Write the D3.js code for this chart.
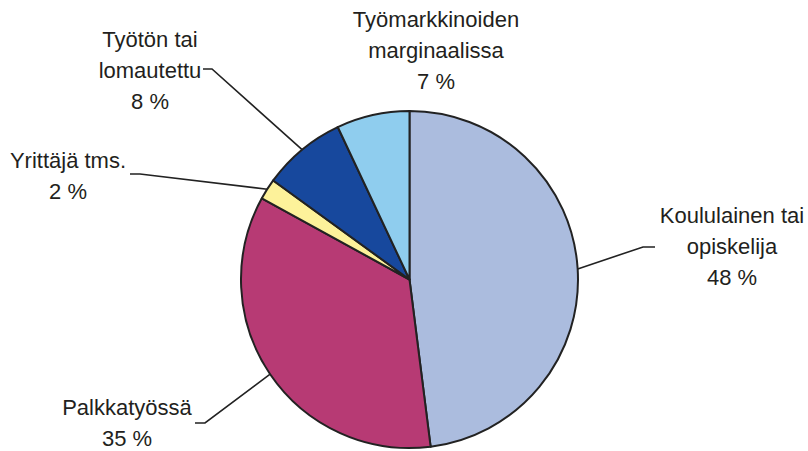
<!DOCTYPE html>
<html>
<head>
<meta charset="utf-8">
<script src="https://cdn.jsdelivr.net/npm/d3@7"></script>
<style>
  body { margin: 0; background: #fff; }
  svg text { font-family: "Liberation Sans", Arial, sans-serif; font-size: 22px; fill: #231f20; }
</style>
</head>
<body>
<div id="chart"></div>
<script>
// data, clockwise from 12 o'clock
const categories = ["Koululainen tai opiskelija", "Palkkatyössä", "Yrittäjä tms.", "Työtön tai lomautettu", "Työmarkkinoiden marginaalissa"];
const values = [48, 35, 2, 8, 7];
const labelLines = [["Koululainen tai", "opiskelija"], ["Palkkatyössä"], ["Yrittäjä tms."], ["Työtön tai", "lomautettu"], ["Työmarkkinoiden", "marginaalissa"]];
const colors = ["#abbcde", "#b73a74", "#fdf29a", "#17489d", "#8fcdee"];

// label placement (text centre x, first baseline y, leader elbow points)
const labelPos = [
  { x: 732, y: 223, leader: [[655, 247], [643, 247]] },
  { x: 127, y: 415, leader: [[195, 423], [205, 423]] },
  { x: 68, y: 168, leader: [[130, 174], [140, 174]] },
  { x: 150, y: 47, leader: [[203, 69], [212, 69]] },
  { x: 436, y: 27, leader: null }
];

const w = 808, h = 451;
const cx = 409.5, cy = 279.5, r = 168.5;
const lineH = 31;

const svg = d3.select("#chart").append("svg")
  .attr("width", w)
  .attr("height", h);

const pie = d3.pie().sort(null).value(d => d);
const arcs = pie(values);
const arc = d3.arc().innerRadius(0).outerRadius(r);

const g = svg.append("g").attr("transform", `translate(${cx},${cy})`);

g.selectAll("path")
  .data(arcs)
  .enter()
  .append("path")
  .attr("d", arc)
  .attr("fill", (d, i) => colors[i])
  .attr("stroke", "#222")
  .attr("stroke-width", 2)
  .attr("stroke-linejoin", "round");

// leader lines from slice edge to label
arcs.forEach((d, i) => {
  const p = labelPos[i];
  if (!p.leader) return;
  const mid = (d.startAngle + d.endAngle) / 2;
  const edge = [cx + r * Math.sin(mid), cy - r * Math.cos(mid)];
  const pts = p.leader.concat([edge]);
  svg.append("path")
    .attr("d", d3.line()(pts))
    .attr("fill", "none")
    .attr("stroke", "#222")
    .attr("stroke-width", 1.6);
});

// labels
arcs.forEach((d, i) => {
  const p = labelPos[i];
  const lines = labelLines[i].concat([values[i] + " %"]);
  const t = svg.append("text")
    .attr("text-anchor", "middle");
  lines.forEach((s, j) => {
    t.append("tspan")
      .attr("x", p.x)
      .attr("y", p.y + j * lineH)
      .text(s);
  });
});
</script>
</body>
</html>
